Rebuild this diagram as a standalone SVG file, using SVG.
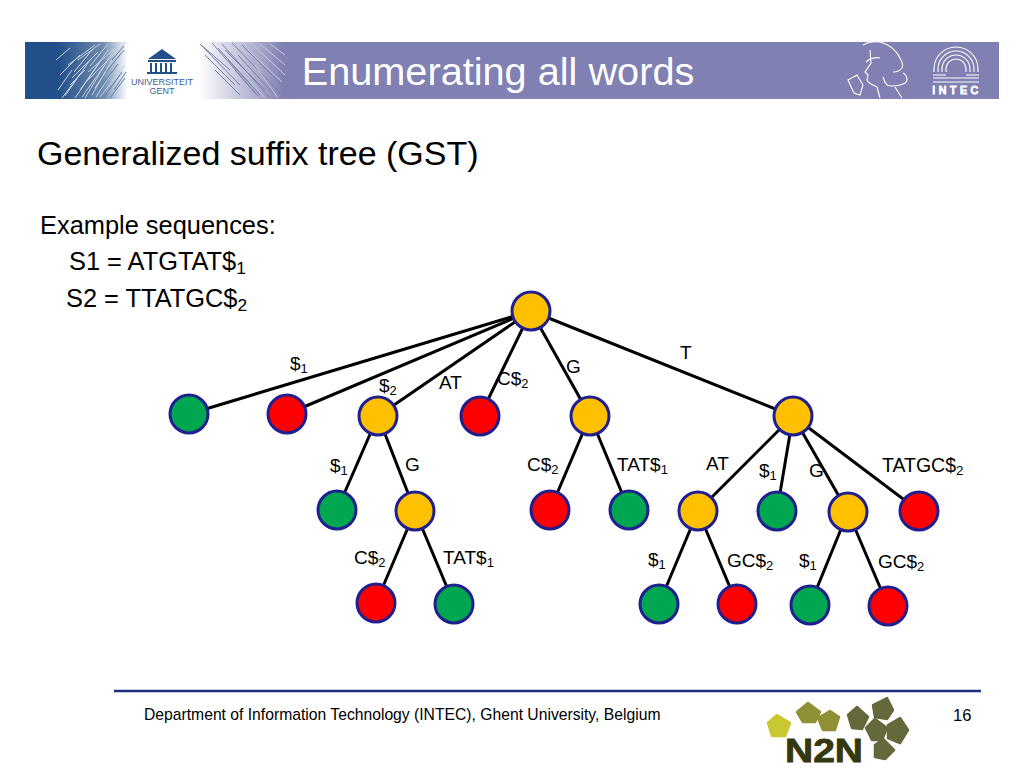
<svg xmlns="http://www.w3.org/2000/svg" width="1024" height="768" viewBox="0 0 1024 768">
<style>
text{font-family:"Liberation Sans",Arial,sans-serif;fill:#000}
.l{font-size:19px}
.b{font-size:25.4px}
.s{font-size:.68em;baseline-shift:-22%}
.e line{stroke:#000;stroke-width:3}
.n circle{stroke:#1f1f8f;stroke-width:3}
.o{fill:#ffc000}.g{fill:#00a650}.r{fill:#ff0000}
.w{fill:none;stroke:#fff;stroke-width:1.1}
.h{stroke-width:1;fill:none}
#n2n polygon{stroke-width:2.5;stroke-linejoin:round}
.p1{fill:#c9c832;stroke:#c9c832}.p2{fill:#8f8f35;stroke:#8f8f35}.p3{fill:#65683a;stroke:#65683a}
</style>
<defs>
<linearGradient id="bg" x1="0" x2="1" y1="0" y2="0">
<stop offset="0" stop-color="#23508a"/><stop offset=".035" stop-color="#23508a"/><stop offset=".08" stop-color="#6f8bb0"/><stop offset=".105" stop-color="#fff"/><stop offset=".178" stop-color="#fff"/><stop offset=".24" stop-color="#a9a9cc"/><stop offset=".265" stop-color="#8080b2"/><stop offset="1" stop-color="#8080b2"/>
</linearGradient>
</defs>
<g id="banner">
<rect x="25" y="42" width="974" height="57" fill="url(#bg)"/>
<path class="h" stroke="#c3d0df" d="M58 90L72 70M65 96L90 60M70 85L85 70M75 98L100 62M80 90L108 50M85 98L115 48M92 95L112 60M60 75L80 55M68 65L95 45M78 60L100 44M88 72L120 44M95 88L125 42M100 97L125 65M56 60L70 48M98 70L118 50M72 78L98 52M84 84L110 58M90 66L108 44M62 98L80 74M74 72L92 50M82 97L104 66M96 97L116 66"/>
<path class="h" stroke="#5b7ea6" d="M104 97L122 72M110 98L125 78M106 72L124 50M112 60L124 46M100 88L118 64M114 90L126 72"/>
<path class="h" stroke="#7a82a8" d="M200 44L240 85M205 55L235 85M212 43L258 96M222 44L270 98M232 43L282 95M242 45L285 88M225 50L265 90M200 44L230 70M215 70L240 95M228 60L260 95M238 55L272 92M218 48L250 84M235 70L256 94"/>
<path class="h" stroke="#c5c8dc" d="M250 42L285 75M260 44L285 65M248 50L282 82M270 44L285 55M245 75L265 98M255 65L278 98"/>
<g id="ugent" fill="#23508a">
<path d="M148 59L162 49L176 59Z"/><rect x="148" y="60" width="28" height="2"/><rect x="150" y="63" width="2" height="9"/><rect x="155" y="63" width="2" height="9"/><rect x="160" y="63" width="2" height="9"/><rect x="165" y="63" width="2" height="9"/><rect x="170" y="63" width="2" height="9"/><rect x="147" y="72" width="30" height="2"/>
<text x="162" y="85" text-anchor="middle" style="fill:#3d6090;font-size:9px">UNIVERSITEIT</text>
<text x="162" y="94" text-anchor="middle" style="fill:#3d6090;font-size:9px">GENT</text>
</g>
<text x="498" y="85" text-anchor="middle" style="fill:#fff;font-size:39.7px">Enumerating all words</text>
<g id="helmet" class="w">
<path d="M863 45C870 41 878 41 883 43C892 46 897 52 900 58C903 63 903 66 902 68C899 72 896 72 893 72"/>
<path d="M866 62C870 58 876 57 880 58M870 50L871 63L865 72L868 75L867 80C869 84 873 85 877 87L880 98"/>
<path d="M883 77C884 81 885 83 887 85C892 87 896 86 900 85C904 84 907 83 907 80C907 77 905 74 903 73M895 87L902 98"/>
<path d="M848 80L857 75L863 85L860 95L854 93Z"/>
</g>
<g id="intec" class="w">
<path d="M934 72V69A22 22 0 0 1 978 69V72M938 72V69A18 18 0 0 1 974 69V72M942 72V69A14 14 0 0 1 970 69V72M946 72V69A10 10 0 0 1 966 69V72"/>
<path d="M933 75H946M966 75H979M933 78H979M933 82H979"/>
<text x="957" y="94" text-anchor="middle" style="fill:#fff;font-size:10.5px;letter-spacing:3.6px">INTEC</text>
</g>
</g>
<text x="37" y="165" style="font-size:34px">Generalized suffix tree (GST)</text>
<text x="40" y="234" class="b">Example sequences:</text>
<text x="69" y="270" class="b">S1 = ATGTAT$<tspan class="s">1</tspan></text>
<text x="66" y="307" class="b">S2 = TTATGC$<tspan class="s">2</tspan></text>
<g id="edges" class="e">
<line x1="531" y1="311" x2="189" y2="414"/><line x1="531" y1="311" x2="287" y2="414"/><line x1="531" y1="311" x2="378" y2="416"/><line x1="531" y1="311" x2="480" y2="416"/><line x1="531" y1="311" x2="590" y2="416"/><line x1="531" y1="311" x2="793" y2="416"/>
<line x1="378" y1="416" x2="337" y2="510"/><line x1="378" y1="416" x2="415" y2="511"/><line x1="415" y1="511" x2="376" y2="603"/><line x1="415" y1="511" x2="454" y2="604"/>
<line x1="590" y1="416" x2="550" y2="510"/><line x1="590" y1="416" x2="629" y2="510"/>
<line x1="793" y1="416" x2="698" y2="511"/><line x1="793" y1="416" x2="777" y2="511"/><line x1="793" y1="416" x2="848" y2="512"/><line x1="793" y1="416" x2="919" y2="511"/>
<line x1="698" y1="511" x2="659" y2="604"/><line x1="698" y1="511" x2="737" y2="604"/><line x1="848" y1="512" x2="810" y2="605"/><line x1="848" y1="512" x2="888" y2="606"/>
</g>
<g id="nodes" class="n">
<g id="n0"><circle cx="531" cy="311" r="19" class="o"/></g>
<g id="n1"><circle cx="189" cy="414" r="19" class="g"/></g>
<g id="n2"><circle cx="287" cy="414" r="19" class="r"/></g>
<g id="n3"><circle cx="378" cy="416" r="19" class="o"/></g>
<g id="n4"><circle cx="480" cy="416" r="19" class="r"/></g>
<g id="n5"><circle cx="590" cy="416" r="19" class="o"/></g>
<g id="n6"><circle cx="793" cy="416" r="19" class="o"/></g>
<g id="n7"><circle cx="337" cy="510" r="19" class="g"/></g>
<g id="n8"><circle cx="415" cy="511" r="19" class="o"/></g>
<g id="n9"><circle cx="550" cy="510" r="19" class="r"/></g>
<g id="n10"><circle cx="629" cy="510" r="19" class="g"/></g>
<g id="n11"><circle cx="698" cy="511" r="19" class="o"/></g>
<g id="n12"><circle cx="777" cy="511" r="19" class="g"/></g>
<g id="n13"><circle cx="848" cy="512" r="19" class="o"/></g>
<g id="n14"><circle cx="919" cy="511" r="19" class="r"/></g>
<g id="n15"><circle cx="376" cy="603" r="19" class="r"/></g>
<g id="n16"><circle cx="454" cy="604" r="19" class="g"/></g>
<g id="n17"><circle cx="659" cy="604" r="19" class="g"/></g>
<g id="n18"><circle cx="737" cy="604" r="19" class="r"/></g>
<g id="n19"><circle cx="810" cy="605" r="19" class="g"/></g>
<g id="n20"><circle cx="888" cy="606" r="19" class="r"/></g>
</g>
<g id="labels">
<text x="290" y="370" class="l">$<tspan class="s">1</tspan></text>
<text x="379" y="392" class="l">$<tspan class="s">2</tspan></text>
<text x="439" y="389" class="l">AT</text>
<text x="497" y="385" class="l">C$<tspan class="s">2</tspan></text>
<text x="566" y="373" class="l">G</text>
<text x="680" y="359" class="l">T</text>
<text x="330" y="472" class="l">$<tspan class="s">1</tspan></text>
<text x="405" y="471" class="l">G</text>
<text x="527" y="471" class="l">C$<tspan class="s">2</tspan></text>
<text x="617" y="471" class="l">TAT$<tspan class="s">1</tspan></text>
<text x="706" y="470" class="l">AT</text>
<text x="759" y="477" class="l">$<tspan class="s">1</tspan></text>
<text x="809" y="477" class="l">G</text>
<text x="882" y="472" class="l" style="font-size:19.5px">TATGC$<tspan class="s">2</tspan></text>
<text x="354" y="564" class="l">C$<tspan class="s">2</tspan></text>
<text x="443" y="564" class="l">TAT$<tspan class="s">1</tspan></text>
<text x="648" y="566" class="l">$<tspan class="s">1</tspan></text>
<text x="727" y="567" class="l">GC$<tspan class="s">2</tspan></text>
<text x="799" y="567" class="l">$<tspan class="s">1</tspan></text>
<text x="878" y="568" class="l">GC$<tspan class="s">2</tspan></text>
</g>
<line x1="114" y1="691" x2="981" y2="691" stroke="#1f2f7f" stroke-width="2.5"/>
<text x="144" y="720" style="font-size:15.7px">Department of Information Technology (INTEC), Ghent University, Belgium</text>
<text x="953" y="721" style="font-size:16.5px">16</text>
<g id="n2n">
<polygon class="p1" points="777,715 790,723 785,736 772,736 768,723"/>
<polygon class="p2" points="808,703 820,712 815,722 803,722 797,712"/>
<polygon class="p2" points="830,711 839,717 835,730 823,730 818,718"/>
<polygon class="p3" points="857,707 868,717 862,729 852,728 848,715"/>
<polygon class="p3" points="887,698 893,710 887,719 875,717 873,705"/>
<polygon class="p3" points="875,719 887,728 882,740 872,740 866,728"/>
<polygon class="p3" points="900,718 908,730 900,743 888,738 888,725"/>
<polygon class="p3" points="883,739 894,750 885,759 875,757 875,745"/>
<text x="824" y="762" text-anchor="middle" textLength="78" lengthAdjust="spacingAndGlyphs" style="font-size:33px;font-weight:bold;fill:#34380f;stroke:#34380f;stroke-width:.8">N2N</text>
</g>
</svg>
